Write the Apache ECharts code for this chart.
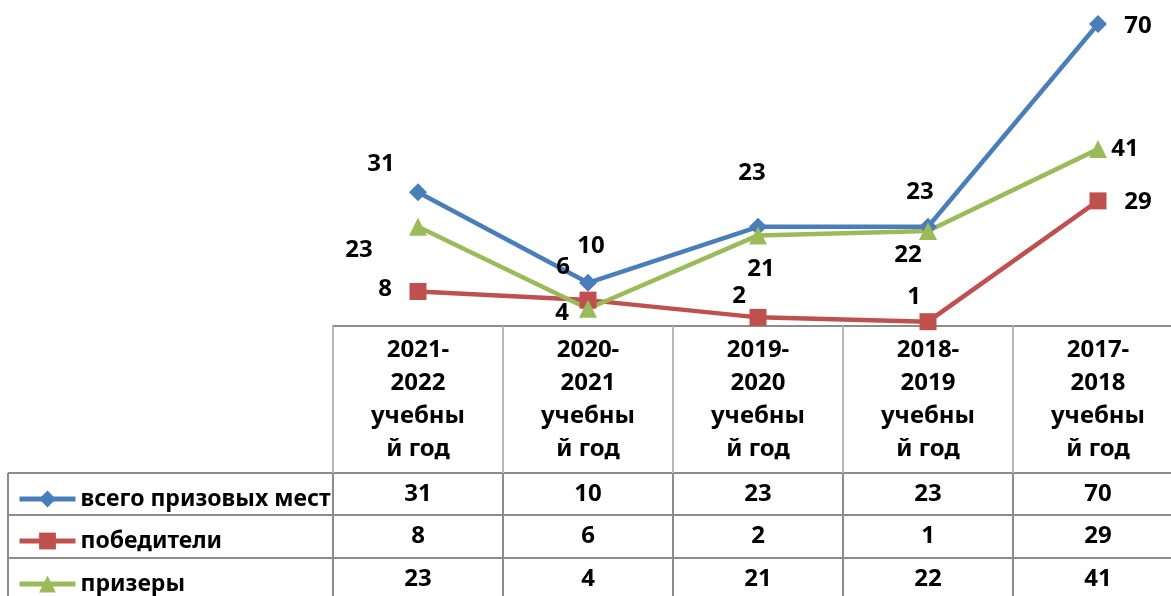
<!DOCTYPE html>
<html>
<head>
<meta charset="utf-8">
<script src="https://cdn.jsdelivr.net/npm/echarts@6/dist/echarts.min.js"></script>
<style>
  html, body { margin: 0; padding: 0; background: #fff; }
  #chart { width: 1171px; height: 596px; }
</style>
</head>
<body>
<div id="chart"></div>
<script>
// years shown on the axis / in the table header
const categories = ['2021-2022', '2020-2021', '2019-2020', '2018-2019', '2017-2018'];
const seriesNames = ['всего призовых мест', 'победители', 'призеры'];
const totalPlaces = [31, 10, 23, 23, 70];
const winners = [8, 6, 2, 1, 29];
const prizeWinners = [23, 4, 21, 22, 41];

// label nudges (px) so the numbers sit where they were put in the original
const totalOffsets = [[-37, -28], [3, -37], [-6, -54], [-8, -35], [40, 2]];
const winnerOffsets = [[-33, -2], [-25, -33], [-19, -21], [-14, -25], [40, 1]];
const prizeOffsets = [[-59, 23], [-26, 4], [3, 34], [-20, 24], [27, 0]];

const FONT = 'Noto Sans';
const gridLine = '#8c8c8c';
const lightLine = '#b8b8b8';
const colors = ['#4a7ebb', '#c0504d', '#9bbb59'];

// layout (px)
const plotLeft = 333, plotTop = 24, plotBottom = 326;
const rowTops = [473, 515, 558];
const tableLeft = 8;

const chart = echarts.init(document.getElementById('chart'));

function makeSeries(name, values, offsets, color, symbol, size) {
  return {
    name: name,
    type: 'line',
    xAxisIndex: 0,
    clip: false,
    data: values.map((v, i) => ({
      value: v,
      label: { offset: offsets[i] }
    })),
    symbol: symbol,
    symbolSize: size,
    lineStyle: { color: color, width: 4.5 },
    itemStyle: { color: color },
    label: {
      show: true,
      position: 'inside',
      color: '#000',
      fontFamily: FONT,
      fontWeight: 'bold',
      fontSize: 24
    },
    emphasis: { disabled: true },
    animation: false
  };
}

const rows = [totalPlaces, winners, prizeWinners];

function rowAxis(k) {
  const next = k < 2 ? rowTops[k + 1] : 600;
  return {
    type: 'category',
    gridIndex: 0,
    data: categories,
    position: 'bottom',
    offset: rowTops[k] - plotBottom,
    boundaryGap: true,
    axisLine: { show: true, lineStyle: { color: gridLine, width: 2 } },
    axisTick: { show: true, length: next - rowTops[k], lineStyle: { color: gridLine, width: 2 } },
    axisLabel: {
      margin: 0,
      lineHeight: 42,
      color: '#000',
      fontFamily: FONT,
      fontWeight: 'bold',
      fontSize: 24,
      formatter: (v, i) => String(rows[k][i])
    }
  };
}

// one legend per table row so each sits in its own cell
const legends = seriesNames.map((name, k) => ({
  orient: 'horizontal',
  left: 12,
  top: rowTops[k] + 7,
  itemWidth: 56,
  itemHeight: 21,
  selectedMode: false,
  lineStyle: { width: 5 },
  textStyle: {
    color: '#000',
    fontFamily: FONT,
    fontWeight: 'bold',
    fontSize: 23,
    lineHeight: 28
  },
  data: [name]
}));

const option = {
  backgroundColor: '#fff',
  animation: false,
  grid: {
    left: plotLeft, top: plotTop, width: 850, height: plotBottom - plotTop,
    outerBoundsMode: 'none', containLabel: false
  },
  xAxis: [
    {
      type: 'category',
      gridIndex: 0,
      data: categories,
      boundaryGap: true,
      axisLine: { show: true, lineStyle: { color: gridLine, width: 2 } },
      axisTick: { show: true, length: rowTops[0] - plotBottom, lineStyle: { color: lightLine, width: 2 } },
      axisLabel: {
        margin: 8,
        lineHeight: 33,
        color: '#000',
        fontFamily: FONT,
        fontWeight: 'bold',
        fontSize: 24,
        formatter: v => {
          const p = v.split('-');
          return p[0] + '-\n' + p[1] + '\nучебны\nй год';
        }
      }
    },
    rowAxis(0),
    rowAxis(1),
    rowAxis(2)
  ],
  yAxis: { type: 'value', min: 0, max: 70, show: false },
  legend: legends,
  graphic: [
    { type: 'line', shape: { x1: tableLeft, y1: rowTops[0], x2: tableLeft, y2: 600 }, style: { stroke: gridLine, lineWidth: 2 } }
  ].concat(rowTops.map(y => ({
    type: 'line', shape: { x1: tableLeft, y1: y, x2: plotLeft, y2: y }, style: { stroke: gridLine, lineWidth: 2 }
  }))),
  series: [
    makeSeries(seriesNames[0], totalPlaces, totalOffsets, colors[0], 'diamond', 18),
    makeSeries(seriesNames[1], winners, winnerOffsets, colors[1], 'rect', 17),
    makeSeries(seriesNames[2], prizeWinners, prizeOffsets, colors[2], 'triangle', 18)
  ]
};

chart.setOption(option);
</script>
</body>
</html>
